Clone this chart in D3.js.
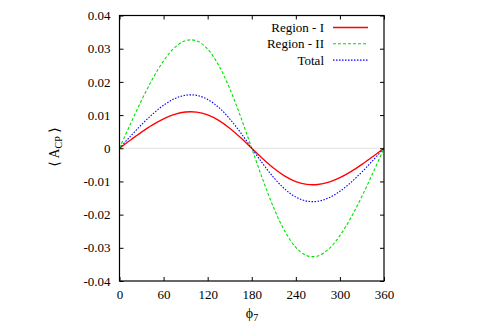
<!DOCTYPE html>
<html>
<head>
<meta charset="utf-8">
<script src="https://cdn.jsdelivr.net/npm/d3@7"></script>
<style>
  body { margin: 0; background: #fff; }
  svg text { font-family: "Liberation Serif", "DejaVu Serif", serif; fill: #000; }
</style>
</head>
<body>
<div id="chart"></div>
<script>
  const w = 477;
  const h = 334;

  // phi_7 sample points (degrees)
  const phi = [0, 15, 30, 45, 60, 75, 90, 105, 120, 135, 150, 165, 180,
               195, 210, 225, 240, 255, 270, 285, 300, 315, 330, 345, 360];

  // values
  const regionI = [0, 0.00248, 0.00486, 0.00703, 0.00886, 0.01020, 0.01092, 0.01089, 0.01005, 0.00841, 0.00605, 0.00317, 0,
                   -0.00317, -0.00605, -0.00841, -0.01005, -0.01089, -0.01092, -0.01020, -0.00886, -0.00703, -0.00486, -0.00248, 0];
  const regionII = [0, 0.00738, 0.01445, 0.02090, 0.02633, 0.03032, 0.03245, 0.03237, 0.02987, 0.02499, 0.01800, 0.00942, 0,
                    -0.00942, -0.01800, -0.02499, -0.02987, -0.03237, -0.03245, -0.03032, -0.02633, -0.02090, -0.01445, -0.00738, 0];
  const total = [0, 0.00363, 0.00712, 0.01029, 0.01297, 0.01493, 0.01598, 0.01594, 0.01471, 0.01231, 0.00886, 0.00464, 0,
                 -0.00464, -0.00886, -0.01231, -0.01471, -0.01594, -0.01598, -0.01493, -0.01297, -0.01029, -0.00712, -0.00363, 0];

  const xTicks = [0, 60, 120, 180, 240, 300, 360];
  const yTicks = [-0.04, -0.03, -0.02, -0.01, 0, 0.01, 0.02, 0.03, 0.04];

  const seriesNames = ['Region - I', 'Region - II', 'Total'];
  const seriesValues = [regionI, regionII, total];

  const styles = [
    { color: '#ff0000', dash: null, width: 1.3 },
    { color: '#00e000', dash: '3,2', width: 1.1 },
    { color: '#0000ff', dash: '1.5,1.5', width: 1.1 }
  ];

  const serif = '"Liberation Serif", "DejaVu Serif", serif';
  const plotL = 119.5, plotR = 384, plotT = 15.5, plotB = 281;

  const x = d3.scaleLinear().domain([0, 360]).range([plotL, plotR]);
  const y = d3.scaleLinear().domain([-0.04, 0.04]).range([plotB, plotT]);

  const svg = d3.select('#chart').append('svg')
      .attr('width', w)
      .attr('height', h)
      .attr('font-family', serif);

  // zero line
  svg.append('line')
      .attr('x1', x(0)).attr('x2', x(360))
      .attr('y1', y(0)).attr('y2', y(0))
      .style('stroke', '#999')
      .style('stroke-width', 0.6)
      .style('stroke-dasharray', '1,1');

  svg.append('clipPath').attr('id', 'clip')
    .append('rect')
      .attr('x', plotL).attr('y', plotT)
      .attr('width', plotR - plotL).attr('height', plotB - plotT);

  const line = d3.line()
      .x((d, i) => x(phi[i]))
      .y(d => y(d))
      .curve(d3.curveCatmullRom);

  const curves = svg.append('g').attr('clip-path', 'url(#clip)');
  seriesValues.forEach((vals, k) => {
    curves.append('path')
        .attr('d', line(vals))
        .style('fill', 'none')
        .style('stroke', styles[k].color)
        .style('stroke-width', styles[k].width)
        .style('stroke-dasharray', styles[k].dash);
  });

  // axes, ticks inward on all sides
  const tickLen = 4;
  const axisBottom = svg.append('g').attr('transform', 'translate(0,' + plotB + ')')
      .call(d3.axisBottom(x).tickValues(xTicks).tickSize(-tickLen).tickPadding(9).tickFormat(d3.format('d')));
  const axisTop = svg.append('g').attr('transform', 'translate(0,' + plotT + ')')
      .call(d3.axisTop(x).tickValues(xTicks).tickSize(-tickLen).tickFormat(''));
  const axisLeft = svg.append('g').attr('transform', 'translate(' + plotL + ',0)')
      .call(d3.axisLeft(y).tickValues(yTicks).tickSize(-tickLen).tickPadding(9)
        .tickFormat(d => d === 0 ? '0' : d3.format('.2f')(d).replace('−', '-')));
  const axisRight = svg.append('g').attr('transform', 'translate(' + plotR + ',0)')
      .call(d3.axisRight(y).tickValues(yTicks).tickSize(-tickLen).tickFormat(''));

  [axisBottom, axisTop, axisLeft, axisRight].forEach(a => {
    a.attr('font-family', serif).attr('font-size', 13);
    a.select('.domain').remove();
    a.selectAll('line').style('stroke', '#000').style('stroke-width', 1);
    a.selectAll('text').attr('fill', '#000');
  });

  // border
  svg.append('rect')
      .attr('x', plotL).attr('y', plotT)
      .attr('width', plotR - plotL).attr('height', plotB - plotT)
      .style('fill', 'none')
      .style('stroke', '#000')
      .style('stroke-width', 1.2);

  // legend
  const legend = svg.append('g');
  seriesNames.forEach((name, k) => {
    const ly = 27.5 + k * 16.3;
    legend.append('text')
        .attr('x', 324)
        .attr('y', ly)
        .attr('dy', '0.35em')
        .attr('text-anchor', 'end')
        .attr('font-size', 13)
        .text(name);
    legend.append('line')
        .attr('x1', 333).attr('x2', 368)
        .attr('y1', ly).attr('y2', ly)
        .style('stroke', styles[k].color)
        .style('stroke-width', styles[k].width)
        .style('stroke-dasharray', styles[k].dash);
  });

  // axis labels
  const xl = svg.append('text')
      .attr('x', 252)
      .attr('y', 318)
      .attr('text-anchor', 'middle')
      .attr('font-size', 14);
  xl.append('tspan').text('ϕ');
  xl.append('tspan').attr('dy', 3).attr('font-size', 10).text('7');

  const yl = svg.append('text')
      .attr('transform', 'translate(59,147) rotate(-90)')
      .attr('text-anchor', 'middle')
      .attr('font-size', 14);
  yl.append('tspan').text('⟨ A');
  yl.append('tspan').attr('dy', 3).attr('font-size', 10).text('CP');
  yl.append('tspan').attr('dy', -3).text(' ⟩');
</script>
</body>
</html>
